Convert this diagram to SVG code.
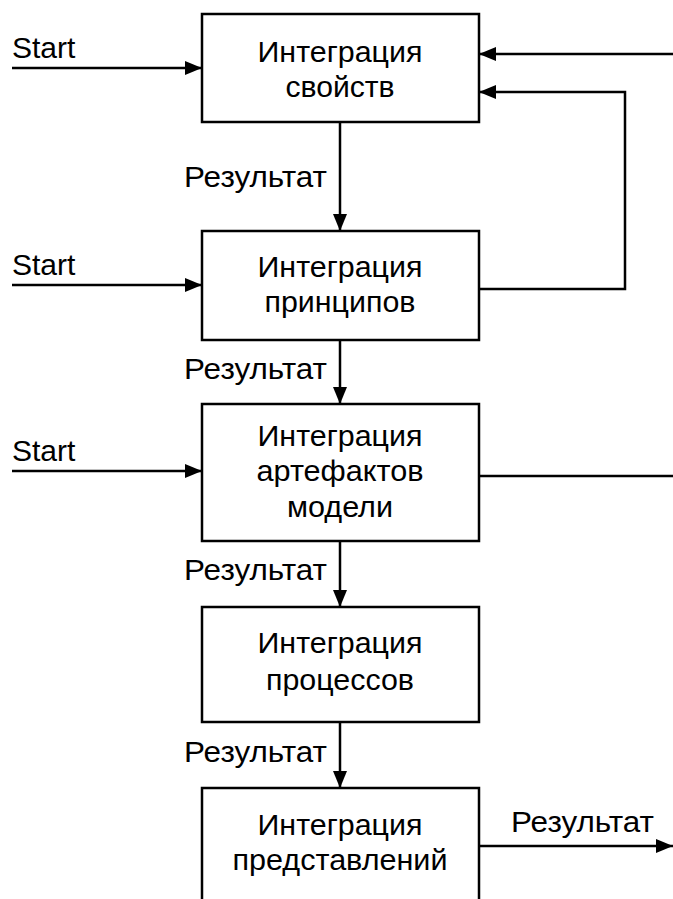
<svg xmlns="http://www.w3.org/2000/svg" width="673" height="899" viewBox="0 0 673 899">
<style>
.box{fill:#fff;stroke:#000;stroke-width:2.5}
.c{fill:none;stroke:#000;stroke-width:2.5}
text{font-family:"Liberation Sans",Arial,sans-serif;font-size:30px;fill:#000}
.m{text-anchor:middle}
</style>
<defs>
<marker id="ah" viewBox="0 0 17 14" refX="17" refY="7" markerWidth="17" markerHeight="14" markerUnits="userSpaceOnUse" orient="auto">
<path d="M0,0 L17,7 L0,14 z" fill="#000"/>
</marker>
</defs>
<rect width="673" height="899" fill="#fff"/>
<g id="connectors">
<line class="c" x1="12" y1="68" x2="202" y2="68" marker-end="url(#ah)"/>
<line class="c" x1="12" y1="285" x2="202" y2="285" marker-end="url(#ah)"/>
<line class="c" x1="12" y1="471" x2="202" y2="471" marker-end="url(#ah)"/>
<line class="c" x1="673" y1="54" x2="479" y2="54" marker-end="url(#ah)"/>
<polyline class="c" points="479,289 625,289 625,92 479,92" marker-end="url(#ah)"/>
<line class="c" x1="340" y1="122" x2="340" y2="231" marker-end="url(#ah)"/>
<line class="c" x1="340" y1="340" x2="340" y2="404" marker-end="url(#ah)"/>
<line class="c" x1="340" y1="541" x2="340" y2="607" marker-end="url(#ah)"/>
<line class="c" x1="340" y1="722" x2="340" y2="788" marker-end="url(#ah)"/>
<line class="c" x1="479" y1="476" x2="673" y2="476"/>
<line class="c" x1="479" y1="846" x2="673" y2="846" marker-end="url(#ah)"/>
<text x="12" y="58">Start</text>
<text x="12" y="275">Start</text>
<text x="12" y="461">Start</text>
<text x="184" y="187" textLength="143" lengthAdjust="spacingAndGlyphs">Результат</text>
<text x="184" y="379" textLength="143" lengthAdjust="spacingAndGlyphs">Результат</text>
<text x="184" y="580" textLength="143" lengthAdjust="spacingAndGlyphs">Результат</text>
<text x="184" y="762" textLength="143" lengthAdjust="spacingAndGlyphs">Результат</text>
<text x="511" y="832" textLength="143" lengthAdjust="spacingAndGlyphs">Результат</text>
</g>
<g id="n1">
<rect class="box" x="202" y="14" width="277" height="108"/>
<text class="m" x="340" y="62" textLength="165" lengthAdjust="spacingAndGlyphs">Интеграция</text>
<text class="m" x="340" y="97" textLength="109" lengthAdjust="spacingAndGlyphs">свойств</text>
</g>
<g id="n2">
<rect class="box" x="202" y="231" width="277" height="109"/>
<text class="m" x="340" y="277" textLength="165" lengthAdjust="spacingAndGlyphs">Интеграция</text>
<text class="m" x="340" y="312" textLength="151" lengthAdjust="spacingAndGlyphs">принципов</text>
</g>
<g id="n3">
<rect class="box" x="202" y="404" width="277" height="137"/>
<text class="m" x="340" y="446" textLength="165" lengthAdjust="spacingAndGlyphs">Интеграция</text>
<text class="m" x="340" y="481" textLength="167" lengthAdjust="spacingAndGlyphs">артефактов</text>
<text class="m" x="340" y="517" textLength="106" lengthAdjust="spacingAndGlyphs">модели</text>
</g>
<g id="n4">
<rect class="box" x="202" y="607" width="277" height="115"/>
<text class="m" x="340" y="653" textLength="165" lengthAdjust="spacingAndGlyphs">Интеграция</text>
<text class="m" x="340" y="690" textLength="148" lengthAdjust="spacingAndGlyphs">процессов</text>
</g>
<g id="n5">
<rect class="box" x="202" y="788" width="277" height="130"/>
<text class="m" x="340" y="835" textLength="165" lengthAdjust="spacingAndGlyphs">Интеграция</text>
<text class="m" x="340" y="870" textLength="215" lengthAdjust="spacingAndGlyphs">представлений</text>
</g>
</svg>
